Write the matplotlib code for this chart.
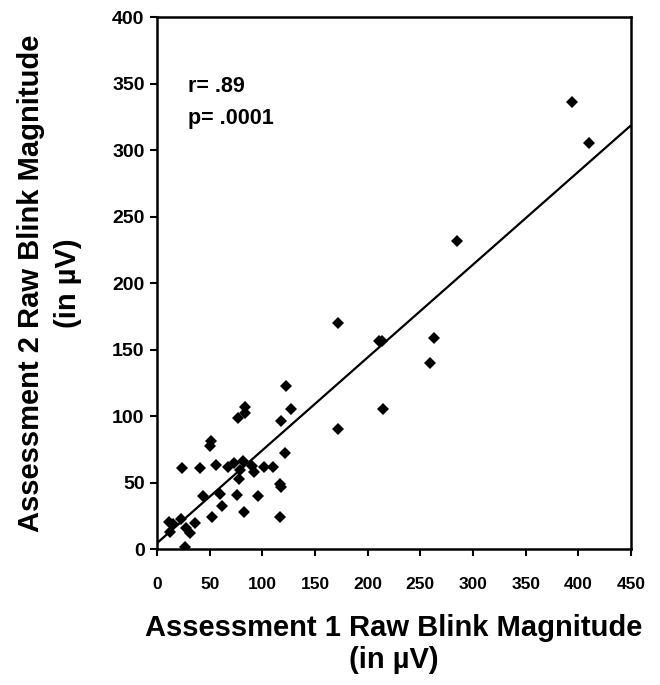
import numpy as np
import matplotlib
matplotlib.use("Agg")
import matplotlib.pyplot as plt

plt.rcParams['font.family'] = ['Liberation Sans', 'DejaVu Sans']

# Raw blink magnitude (µV), assessment 1 vs assessment 2
assessment1 = [394.3, 410.1, 284.8, 171.5, 210.8, 213.3, 262.7, 259.5, 214.6, 172.2,
               122.5, 127.2, 83.2, 83.9, 76.6, 117.4, 51.3, 50.6, 121.8, 24.0,
               40.5, 56.0, 67.0, 73.4, 81.6, 79.1, 90.2, 91.8, 101.9, 109.8,
               77.5, 116.5, 117.7, 43.7, 60.1, 75.9, 95.6, 62.0, 82.3, 52.5,
               117.1, 23.1, 11.4, 15.2, 36.1, 27.2, 31.6, 12.0, 26.6]
assessment2 = [336.1, 305.2, 232.0, 170.2, 156.2, 156.2, 158.4, 140.1, 105.2, 90.5,
               122.6, 105.0, 107.0, 102.0, 98.2, 96.5, 81.2, 77.4, 72.4, 60.6,
               60.6, 63.2, 61.9, 64.4, 66.4, 59.4, 62.4, 58.1, 61.4, 61.9,
               52.4, 48.9, 46.4, 39.8, 41.1, 40.6, 40.1, 32.6, 28.1, 24.1,
               24.1, 22.8, 20.0, 18.5, 19.3, 16.0, 11.8, 13.0, 1.8]

# Least-squares fit line
fit_intercept = 4.5
fit_slope = 0.698

x_ticks = [0, 50, 100, 150, 200, 250, 300, 350, 400, 450]
y_ticks = [0, 50, 100, 150, 200, 250, 300, 350, 400]

fig = plt.figure(figsize=(6.6, 6.85), dpi=100)
ax = fig.add_axes([0.238, 0.1985, 0.718, 0.7765])

ax.plot(assessment1, assessment2, linestyle='none', marker='D', markersize=6.3,
        color='black', markeredgewidth=0, zorder=3)

fx = np.array([0, 450])
ax.plot(fx, fit_intercept + fit_slope * fx, color='black', linewidth=1.6,
        solid_capstyle='butt', zorder=2)

ax.set_xlim(0, 450)
ax.set_ylim(0, 400)
ax.set_xticks(x_ticks)
ax.set_yticks(y_ticks)
ax.set_xticklabels([str(v) for v in x_ticks], fontsize=12.5, fontweight='bold')
ax.set_yticklabels([str(v) for v in y_ticks], fontsize=14, fontweight='bold')
ax.tick_params(direction='out', length=5, width=1.5, color='black')
ax.tick_params(axis='x', pad=15)
ax.tick_params(axis='y', pad=4)
for s in ax.spines.values():
    s.set_linewidth(1.8)
    s.set_color('black')

ax.set_xlabel('Assessment 1 Raw Blink Magnitude\n(in µV)', fontsize=21,
              fontweight='bold', labelpad=16, linespacing=1.2)
ax.set_ylabel('Assessment 2 Raw Blink Magnitude\n(in µV)', fontsize=21,
              fontweight='bold', labelpad=22, linespacing=1.38)

ax.text(0.065, 0.859, 'r= .89', transform=ax.transAxes, fontsize=15.5,
        fontweight='bold', va='baseline')
ax.text(0.065, 0.799, 'p= .0001', transform=ax.transAxes, fontsize=15.5,
        fontweight='bold', va='baseline')

fig.savefig('out.png', dpi=100, facecolor='white')
